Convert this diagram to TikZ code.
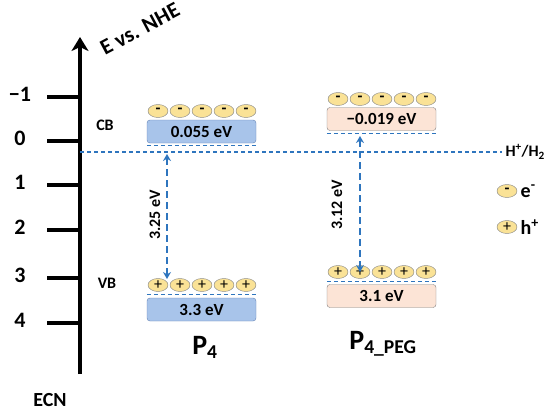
\documentclass[tikz,border=0pt]{standalone}
\usepackage{fontspec}
\setmainfont{Carlito}
\usepackage{tikz}
\usetikzlibrary{arrows.meta, positioning, shapes.geometric}

\definecolor{bandblue}{RGB}{168,196,234}
\definecolor{bandblueline}{RGB}{100,130,180}
\definecolor{bandpink}{RGB}{252,228,214}
\definecolor{carrieryellow}{RGB}{250,226,150}
\definecolor{levelblue}{RGB}{46,117,190}

\begin{document}
\begin{tikzpicture}[
        x=1pt, y=-1pt,
        font=\bfseries,
        axis/.style={line width=3.2pt, black},
        band/.style={rectangle, draw=bandblueline, fill=bandblue, rounded corners=3pt, minimum width=109pt, minimum height=23pt, inner sep=0pt, font=\fontsize{17}{17}\selectfont\bfseries},
        pinkband/.style={band, draw=gray, fill=bandpink},
        carrier/.style={ellipse, draw=gray, fill=carrieryellow, minimum width=20pt, minimum height=13pt, inner sep=0pt, font=\fontsize{16}{16}\selectfont},
        level/.style={dashed, dash pattern=on 4pt off 3pt, levelblue, line width=1.1pt},
        gap/.style={{Stealth[length=7pt,width=8pt]}-{Stealth[length=7pt,width=8pt]}, dash pattern=on 7pt off 4pt, levelblue, line width=1.8pt},
        lbl/.style={font=\fontsize{16}{16}\selectfont\bfseries}
    ]
        \useasboundingbox (0,0) rectangle (550,413);

        % Axis
        \coordinate (axbot) at (80,374);
        \coordinate (axtop) at (80,37);
        \draw[axis, -{Stealth[length=14pt,width=17pt,inset=4pt]}] (axbot) -- (axtop);
        \node[rotate=28, font=\fontsize{22}{22}\selectfont\bfseries] (evs) at (140,29) {E vs. NHE};
        \node[font=\fontsize{20}{20}\selectfont\bfseries] (ecn) at (50,400) {ECN};
        \foreach \v/\y [count=\i] in {−1/97, 0/141, 1/185, 2/230, 3/278, 4/323} {
            \draw[axis] (47,\y) -- (80,\y);
            \node[font=\fontsize{22}{22}\selectfont\bfseries] (t\i) at (20,\y-3) {\v};
        }
        \node[lbl] (cb) at (105,125) {CB};
        \node[lbl] (vb) at (107,283) {VB};

        % H+/H2 level
        \node[lbl, anchor=west] (h2) at (502,152) {H\textsuperscript{+}/H\textsubscript{2}};
        \coordinate (h2start) at (80,152);
        \draw[level] (h2start) -- (h2.west);

        % P4
        \node[band] (p4cb) at (201.5,131.5) {0.055 eV};
        \node[band] (p4vb) at (201.5,309.5) {3.3 eV};
        \draw[level] ([yshift=-2pt]p4cb.south west) -- ([yshift=-2pt]p4cb.south east);
        \draw[level] ([yshift=3pt]p4vb.north west) -- ([yshift=3pt]p4vb.north east);
        \foreach \i in {0,...,4} {
            \node[carrier] (p4e\i) at (158+22*\i,111) {\bfseries\raisebox{-2pt}{-}};
            \node[carrier] (p4h\i) at (158+22*\i,285) {+};
        }
        \coordinate (p4low) at (167,279);
        \coordinate (p4high) at (167,154);
        \draw[gap] (p4low) -- (p4high);
        \node[lbl, rotate=90] (p4gap) at (155,215) {3.25 eV};
        \node[font=\fontsize{28}{28}\selectfont\bfseries] (p4) at (205,347) {P\textsubscript{4}};

        % P4_PEG
        \node[pinkband] (pegcb) at (381.5,119) {−0.019 eV};
        \node[pinkband] (pegvb) at (381.5,296) {3.1 eV};
        \draw[level] ([yshift=-3pt]pegcb.south west) -- ([yshift=-3pt]pegcb.south east);
        \draw[level] ([yshift=3pt]pegvb.north west) -- ([yshift=3pt]pegvb.north east);
        \foreach \i in {0,...,4} {
            \node[carrier] (pege\i) at (338+22*\i,99) {\bfseries\raisebox{-2pt}{-}};
            \node[carrier] (pegh\i) at (338+22*\i,272) {+};
        }
        \coordinate (peglow) at (360,272);
        \coordinate (peghigh) at (360,136);
        \draw[gap] (peglow) -- (peghigh);
        \node[lbl, rotate=90] (peggap) at (337,205) {3.12 eV};
        \node[font=\fontsize{28}{28}\selectfont\bfseries] (peg) at (383,344) {P\textsubscript{4\_PEG}};

        % Legend
        \node[carrier] (lege) at (507,191) {\bfseries\raisebox{-2pt}{-}};
        \node[font=\fontsize{20}{20}\selectfont\bfseries, right=0pt of lege] (legetext) {e\textsuperscript{-}};
        \node[carrier] (legh) at (507,227) {+};
        \node[font=\fontsize{20}{20}\selectfont\bfseries, right=0pt of legh] (leghtext) {h\textsuperscript{+}};
    \end{tikzpicture}
\end{document}
